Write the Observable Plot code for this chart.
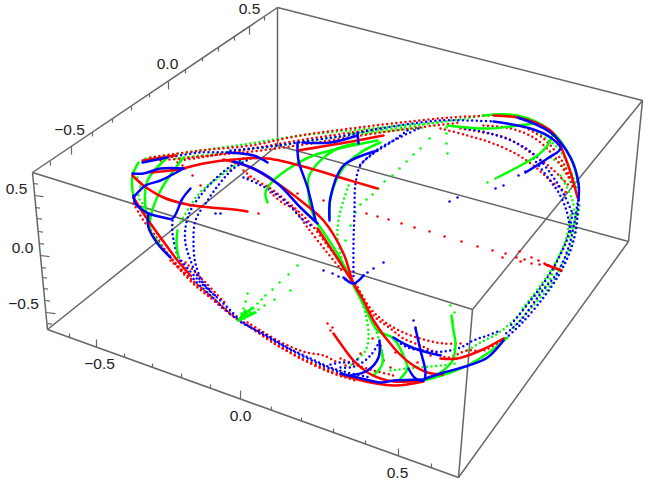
<!DOCTYPE html>
<html><head><meta charset="utf-8">
<style>html,body{margin:0;padding:0;background:#fff}svg{display:block}</style>
<script src="https://cdn.jsdelivr.net/npm/d3@7"></script>
<script src="https://cdn.jsdelivr.net/npm/@observablehq/plot@0.6"></script>
</head><body><div id="chart"></div>
<script>
// All positions are projected picture coordinates read from the 3D view.
const boxEdges=[[[32,172],[277,7]],[[277,7],[642,100]],[[32,172],[472,309]],[[472,309],[642,100]],[[32,172],[47,329]],[[47,329],[458,477]],[[472,309],[458,477]],[[458,477],[628,241]],[[642,100],[628,241]],[[47,329],[277,145]],[[277,145],[628,241]],[[277,7],[277,145]]];
const topTicks=[[50,161,0],[71,146,1],[92,132,0],[112,118,0],[131,106,0],[149,93,0],[168,81,1],[185,69,0],[202,57,0],[218,47,0],[234,36,0],[249,26,1],[264,16,0]];
const leftTicks=[[33,183,0],[34,195,1],[35,207,0],[37,218,0],[38,231,0],[39,243,0],[40,255,1],[41,267,0],[42,277,0],[43,288,0],[45,300,0],[46,312,1],[47,323,0]];
const bottomTicks=[[69,337,0],[96,347,1],[124,357,0],[152,367,0],[181,377,0],[210,388,0],[240,398,1],[271,410,0],[301,421,0],[333,432,0],[365,444,0],[398,456,1],[431,467,0]];
const tickLabels=[["0.5",249,9],["0.0",167,64],["\u22120.5",69,130],["0.5",16,189],["0.0",22,248],["\u22120.5",23,304],["\u22120.5",99,364],["0.0",240,416],["0.5",397,473]];

const redArcs=[
[[132,175],[143,185],[163,197],[187,204],[210,207],[233,209],[247,211]],
[[150,172],[177,169],[203,163],[233,159],[267,158],[310,168],[343,178],[377,188]],
[[223,159],[250,167],[277,183],[300,200],[323,220],[343,253],[353,283],[363,300],[373,320],[393,347],[410,363],[427,372],[442,374]],
[[142,160],[175,155]],
[[297,150],[340,143],[383,135]],
[[493,115],[517,117],[537,123],[553,133],[567,163],[577,197]],
[[133,197],[143,213],[160,237],[177,260],[190,275]],
[[333,333],[340,343],[353,360],[367,372],[380,378],[393,381],[423,380]],
[[440,358],[457,358],[480,350],[503,338]],
[[545,264],[561,270]],
[[340,374],[370,382],[395,385],[423,381]],
[[317,228],[335,255],[353,283]]];
const greenArcs=[
[[267,202],[265,192],[273,180],[290,167],[313,155],[343,147],[377,140]],
[[317,223],[310,207],[308,190],[308,177],[318,162],[337,148],[357,143]],
[[329,217],[330,197],[343,167],[360,152],[380,142]],
[[138,162],[132,175],[132,190],[135,203]],
[[167,157],[147,180],[145,207],[148,217]],
[[183,157],[160,190],[150,217],[150,230],[160,245]],
[[177,230],[176,243],[178,257]],
[[497,177],[520,165],[537,155],[547,145],[552,135]],
[[483,115],[517,115],[550,130],[570,157],[578,183]],
[[447,125],[467,127],[490,128],[510,126],[533,123]],
[[451,315],[453,330],[455,343],[452,360],[440,372],[427,378]],
[[353,285],[365,308],[377,330],[393,338],[405,360],[407,368],[400,378]],
[[380,347],[382,363],[373,375]],
[[423,380],[450,372],[467,365],[487,353],[507,337]],
[[317,223],[335,250],[353,283]],
[[238,320],[252,307]],[[238,320],[245,310]],[[238,320],[255,312]]];
const blueArcs=[
[[142,162],[167,157]],
[[227,152],[253,155],[267,162]],
[[233,161],[253,168],[277,183],[300,207],[317,223]],
[[132,173],[143,173],[160,168],[183,168]],
[[183,168],[160,180],[145,185],[133,197]],
[[133,195],[135,203],[143,210],[148,213],[163,217],[172,218],[182,198],[190,188]],
[[148,213],[148,227],[157,243],[170,257]],
[[297,142],[298,160],[307,187],[315,220]],
[[302,142],[330,142],[357,135]],
[[357,132],[358,143]],
[[329,220],[330,197],[343,165],[377,150]],
[[343,277],[353,283],[363,275]],
[[525,172],[547,158],[560,148],[550,137],[530,128],[493,121]],
[[517,117],[550,132],[570,157],[578,183],[578,200]],
[[503,340],[487,357],[468,365],[440,373],[425,378]],
[[415,328],[420,350],[425,372],[423,380],[415,378],[408,368]],
[[393,337],[407,345],[420,350],[440,355]],
[[379,340],[378,357],[367,370],[350,375]],
[[340,373],[357,377],[380,382],[393,380],[423,379]]];

const redBands=[
[[243,170],[253,178],[270,188],[283,198],[297,210],[310,223],[327,245],[345,268]],
[[270,192],[283,203],[293,208],[307,227],[325,250],[343,272]],
[[133,203],[143,220],[153,233],[167,253],[180,270],[197,287],[210,297]],
[[150,157],[200,150],[250,145],[300,135],[350,128],[400,122],[450,117],[490,115]],
[[180,160],[230,152],[280,143],[330,135],[380,128]],
[[160,160],[210,155],[260,150],[310,143],[360,135],[410,128],[460,122]],
[[440,128],[467,135],[490,142],[513,152],[533,165],[550,180],[567,193]],
[[460,128],[483,132],[507,138],[527,150],[550,167],[570,187]],
[[483,125],[510,128],[533,137],[553,155],[570,180]],
[[520,125],[543,138],[563,163],[573,187]],
[[355,283],[370,308],[385,322],[403,332],[423,339],[443,343],[463,343]],
[[355,283],[373,315],[390,328],[403,338],[420,345],[437,353],[447,357],[467,350],[483,350],[507,336]],
[[340,358],[357,365],[373,370],[393,375]],
[[247,322],[262,331],[277,340],[292,347],[306,352],[323,355],[337,362]],
[[170,260],[190,278],[213,298],[237,318],[263,335],[290,352],[317,365],[343,375],[370,382]],
[[160,245],[180,268],[200,288],[225,310],[250,327],[275,344],[300,358],[330,372],[355,380]],
[[185,262],[205,282],[225,303]]];
const greenBands=[
[[250,157],[235,165],[227,170],[217,178],[207,185],[197,195],[188,208],[180,222]],
[[137,177],[140,187],[138,197],[142,203],[145,217],[150,225]],
[[145,158],[200,150],[250,143],[300,135],[350,130],[400,125],[440,122]],
[[175,158],[225,152],[275,145],[325,138],[375,132],[425,127]],
[[355,285],[365,313],[368,337],[365,350],[350,365]],
[[358,290],[372,320],[380,345],[383,360]],
[[577,210],[570,233],[558,257],[547,283],[533,297],[513,320],[497,333],[480,342],[467,350]],
[[579,205],[572,240],[562,262],[550,285],[530,308],[510,330]],
[[570,215],[565,240],[555,262],[540,285],[522,308]],
[[390,370],[407,368],[430,366],[457,363]],
[[533,130],[557,147],[570,170],[577,190]],
[[550,157],[563,167],[572,187]],
[[560,175],[572,200],[575,225]],
[[348,185],[342,203],[338,220],[337,237],[340,253],[343,267]],
[[350,133],[417,125],[483,115]]];
const blueBands=[
[[243,158],[227,168],[213,180],[200,195],[190,210],[185,227],[185,243],[190,260],[198,277],[210,290]],
[[250,158],[233,168],[220,182],[207,200],[195,220],[193,243],[195,263],[203,283],[217,297]],
[[243,177],[257,183],[270,190],[287,203],[300,217],[313,227]],
[[172,220],[172,233],[178,257],[190,275],[210,295],[238,320],[263,333],[283,345],[310,358],[330,367],[347,372],[370,377]],
[[178,257],[198,280],[222,302],[243,322],[270,338],[295,352],[320,364],[345,374]],
[[230,150],[270,146],[310,140],[345,135],[380,128],[440,120],[493,121]],
[[167,157],[200,152],[227,152]],
[[407,130],[390,142],[373,153],[360,165],[355,183],[354,210],[353,243],[353,280]],
[[418,128],[397,138],[380,147],[367,157],[357,167]],
[[393,338],[407,347],[423,350],[443,351],[460,347],[473,340],[487,335],[500,330]],
[[340,367],[350,367],[360,363],[370,355],[378,343]],
[[577,203],[573,227],[567,250],[557,272],[540,293],[520,320],[503,335]],
[[572,213],[567,237],[558,258],[545,280],[530,300],[510,325]],
[[578,200],[575,232],[568,255],[558,275],[543,297],[522,322],[505,338]],
[[465,128],[490,133],[517,143],[537,157],[553,177],[563,193],[572,213]],
[[533,158],[548,178],[558,192],[566,210],[570,232]],
[[330,364],[340,362],[350,362],[360,357]]];

const redDots=[[258,213],[230,170],[248,177],[268,185],[297,193],[323,200],[366,213],[377,216],[388,219],[401,223],[414,227],[429,231],[444,236],[461,241],[477,246],[492,250],[502,257],[505,253],[519,251],[516,257],[520,261],[524,259],[531,257],[531,263],[538,260],[539,264],[544,263],[548,265],[177,162],[182,165],[185,168],[192,175],[200,185],[327,323],[330,330],[332,327],[383,360],[390,367],[417,362],[430,355],[345,365],[360,353],[380,345],[372,338],[395,352]];
const greenDots=[[297,265],[288,274],[279,282],[272,289],[265,295],[261,299],[257,303],[253,308],[250,312],[247,315],[244,318],[290,290],[274,299],[264,305],[258,309],[253,312],[250,313],[246,316],[247,293],[245,301],[243,308],[241,313],[447,153],[446,143],[446,133],[446,127],[429,138],[420,148],[413,154],[406,161],[399,168],[392,175],[384,181],[378,188],[372,194],[366,199],[360,204],[355,212],[350,225],[345,240],[487,182],[495,178],[450,305],[454,312],[452,320]];
const blueDots=[[215,213],[220,213],[323,270],[332,273],[338,276],[345,279],[383,262],[373,268],[367,272],[363,275],[495,188],[503,185],[449,201],[457,197],[518,175],[525,171],[413,320],[415,327]];

const rows=(list)=>list.flatMap((arc,i)=>arc.map(([x,y])=>({x,y,id:i})));
const pts=(list)=>list.map(([x,y])=>({x,y}));
const thick=(list,c)=>Plot.line(rows(list),{x:"x",y:"y",z:"id",stroke:c,strokeWidth:2.5,curve:"catmull-rom"});
const dotted=(list,c)=>Plot.line(rows(list),{x:"x",y:"y",z:"id",stroke:c,strokeWidth:2.5,curve:"catmull-rom",strokeDasharray:"0 4.6",strokeLinecap:"round"});
const sparse=(list,c)=>Plot.dot(pts(list),{x:"x",y:"y",r:1.25,fill:c,stroke:"none"});
const tickMarks=(list,dx,dy)=>Plot.link(list,{x1:d=>d[0],y1:d=>d[1],x2:d=>d[0]+dx*(d[2]?2:1),y2:d=>d[1]+dy*(d[2]?2:1),stroke:"#666",strokeWidth:1.2});

const chart=Plot.plot({
  width:652,height:482,margin:0,
  x:{domain:[0,652],range:[0,652],axis:null},
  y:{domain:[0,482],range:[0,482],axis:null},
  marks:[
    Plot.link(boxEdges,{x1:d=>d[0][0],y1:d=>d[0][1],x2:d=>d[1][0],y2:d=>d[1][1],stroke:"#666",strokeWidth:1.5}),
    tickMarks(topTicks,0,4),
    tickMarks(leftTicks,4.5,0.6),
    tickMarks(bottomTicks,0,-4),
    Plot.text(tickLabels,{x:d=>d[1],y:d=>d[2],text:d=>d[0],fontSize:15.5,fontFamily:"Liberation Sans",fill:"#222"}),
    dotted(greenBands,"#00ff00"),sparse(greenDots,"#00ff00"),
    dotted(redBands,"#ff0000"),sparse(redDots,"#ff0000"),
    dotted(blueBands,"#0000ff"),sparse(blueDots,"#0000ff"),
    thick(greenArcs,"#00ff00"),
    thick(redArcs,"#ff0000"),
    thick(blueArcs,"#0000ff")
  ]
});
document.getElementById("chart").append(chart);
</script></body></html>
